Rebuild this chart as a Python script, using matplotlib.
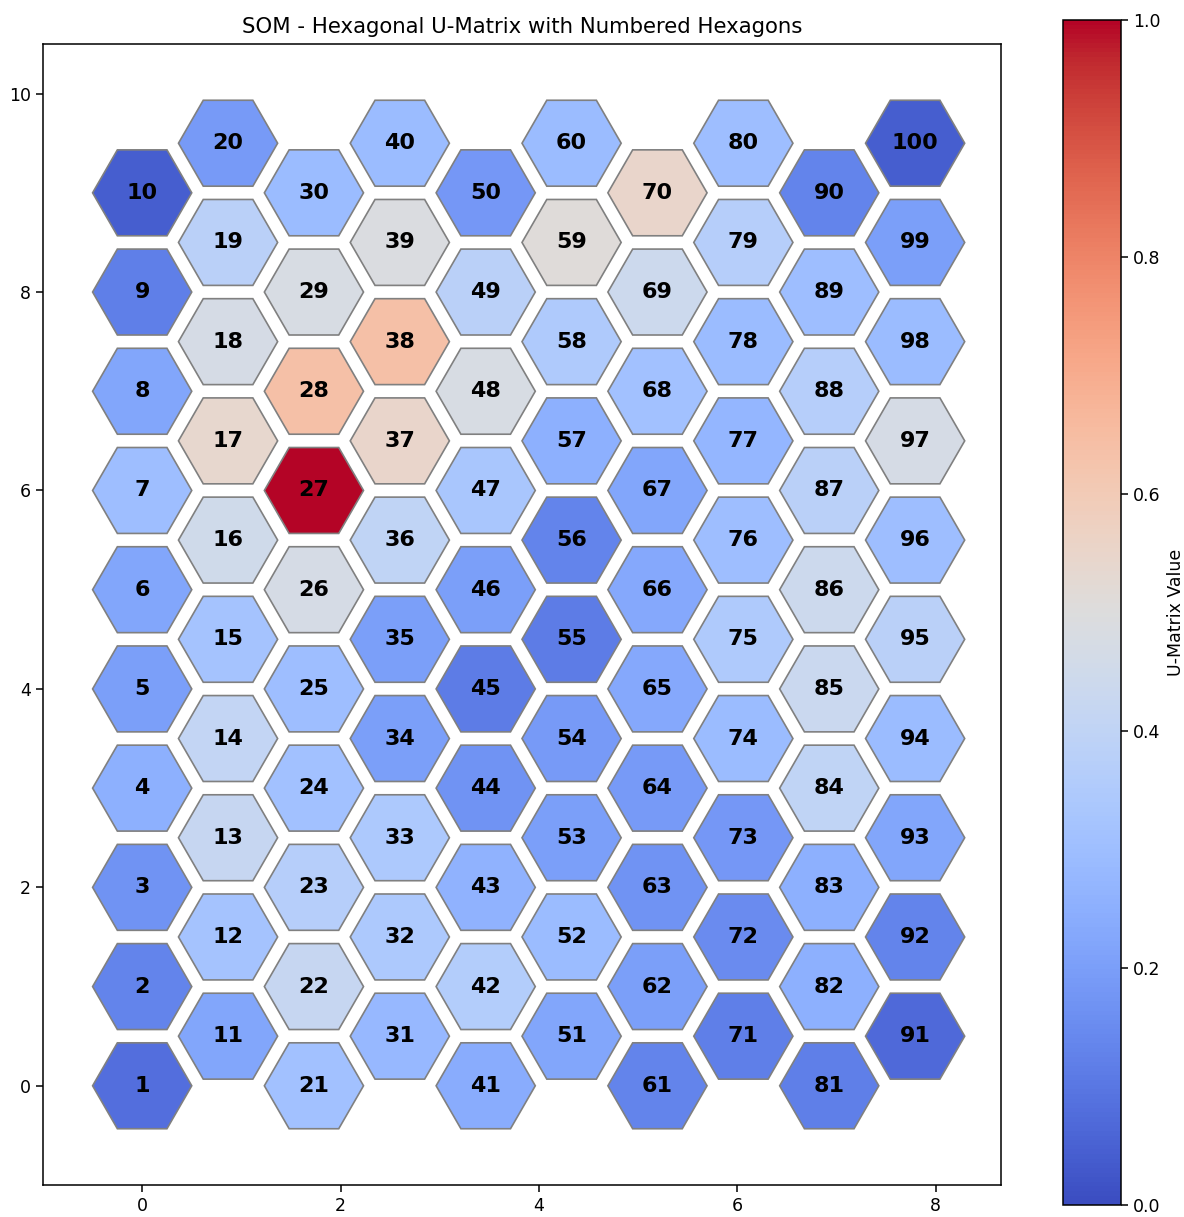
import numpy as np
import matplotlib
matplotlib.use("Agg")
import matplotlib.pyplot as plt
from matplotlib.patches import RegularPolygon
from matplotlib import cm
from matplotlib.colors import Normalize

# SOM grid size (columns x rows)
n_cols = 10
n_rows = 10

# U-matrix values (normalized 0..1), ordered by hexagon number 1..100
u_col0 = [0.08, 0.13, 0.17, 0.25, 0.20, 0.22, 0.30, 0.22, 0.12, 0.04]
u_col1 = [0.22, 0.32, 0.42, 0.41, 0.32, 0.45, 0.54, 0.47, 0.38, 0.19]
u_col2 = [0.31, 0.42, 0.37, 0.31, 0.30, 0.47, 1.00, 0.64, 0.48, 0.29]
u_col3 = [0.28, 0.34, 0.34, 0.20, 0.20, 0.40, 0.55, 0.64, 0.49, 0.29]
u_col4 = [0.24, 0.36, 0.26, 0.17, 0.11, 0.20, 0.33, 0.48, 0.38, 0.18]
u_col5 = [0.22, 0.29, 0.20, 0.19, 0.11, 0.13, 0.25, 0.35, 0.51, 0.29]
u_col6 = [0.13, 0.20, 0.17, 0.19, 0.23, 0.23, 0.22, 0.31, 0.44, 0.55]
u_col7 = [0.12, 0.15, 0.18, 0.29, 0.35, 0.30, 0.27, 0.29, 0.37, 0.30]
u_col8 = [0.12, 0.25, 0.25, 0.40, 0.43, 0.44, 0.38, 0.37, 0.30, 0.13]
u_col9 = [0.07, 0.13, 0.22, 0.29, 0.38, 0.30, 0.47, 0.29, 0.20, 0.04]
u_columns = [u_col0, u_col1, u_col2, u_col3, u_col4,
             u_col5, u_col6, u_col7, u_col8, u_col9]

title = "SOM - Hexagonal U-Matrix with Numbered Hexagons"
cbar_label = "U-Matrix Value"

W, H = 1184, 1217
fig = plt.figure(figsize=(W / 100, H / 100), dpi=100)
ax = fig.add_axes([43 / W, 1 - 1185 / H, (1001 - 43) / W, (1185 - 44) / H])
cax = fig.add_axes([1063 / W, 1 - 1205 / H, (1121 - 1063) / W, (1205 - 20) / H])

cmap = plt.get_cmap("coolwarm")
norm = Normalize(vmin=0.0, vmax=1.0)

dx = np.sqrt(3) / 2
for i in range(n_cols):
    for j in range(n_rows):
        x = i * dx
        y = j + (0.5 if i % 2 == 1 else 0.0)
        val = u_columns[i][j]
        hexagon = RegularPolygon((x, y), numVertices=6, radius=0.5,
                                 orientation=np.radians(30),
                                 facecolor=cmap(norm(val)),
                                 edgecolor="gray", linewidth=1.2)
        ax.add_patch(hexagon)
        ax.text(x, y, str(i * n_rows + j + 1), ha="center", va="center",
                fontsize=16, fontweight="bold", color="black")

ax.set_xlim(-1, n_cols * dx)
ax.set_ylim(-1, n_rows + 0.5)
ax.tick_params(labelsize=12.5, length=5, width=1.1)
for s in ax.spines.values():
    s.set_linewidth(1.1)
ax.set_title(title, fontsize=15.3, pad=8)

sm = cm.ScalarMappable(cmap=cmap, norm=norm)
sm.set_array([])
cb = fig.colorbar(sm, cax=cax)
cb.set_label(cbar_label, fontsize=12.5, labelpad=5)
cb.ax.tick_params(labelsize=12.5, length=5, width=1.1)
cb.outline.set_linewidth(1.1)

fig.savefig("out.png", dpi=100)
